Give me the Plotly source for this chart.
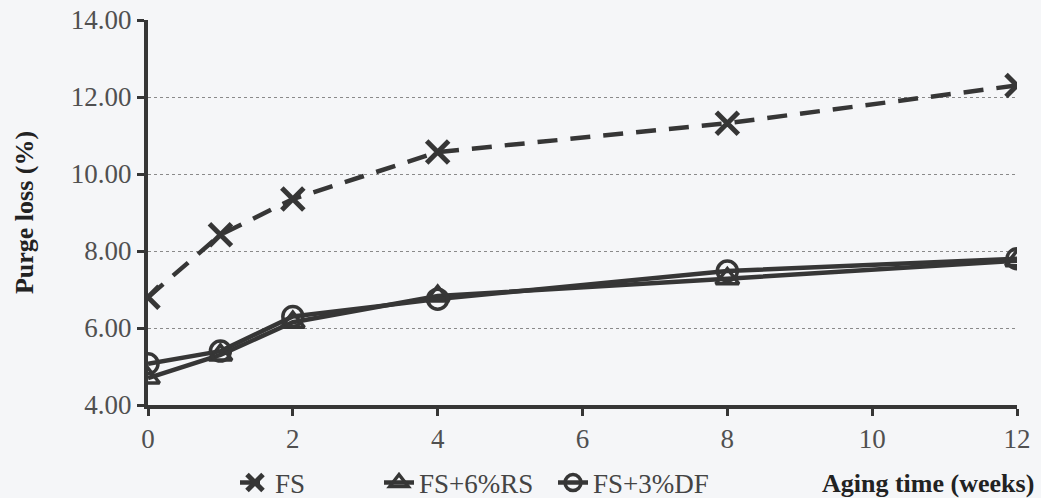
import plotly.graph_objects as go

weeks = [0, 1, 2, 4, 8, 12]
fs = [6.80, 8.42, 9.35, 10.57, 11.32, 12.30]
fs_rs = [4.70, 5.30, 6.15, 6.83, 7.28, 7.75]
fs_df = [5.07, 5.40, 6.30, 6.75, 7.48, 7.80]
x_ticks = [0, 2, 4, 6, 8, 10, 12]
y_ticks = [4, 6, 8, 10, 12, 14]

col = "#363636"
font = "Liberation Serif, Times New Roman, serif"
fsz = 27
tsz = 26
W, H = 1041, 498
L, R, T, B = 148, 24, 20, 93

fig = go.Figure()
fig.add_trace(go.Scatter(x=weeks, y=fs, name="FS", mode="lines+markers", legend="legend",
                         line=dict(color=col, width=4.5, dash="20px,13px"),
                         marker=dict(symbol="x-thin-open", size=22, line=dict(color=col, width=5))))
fig.add_trace(go.Scatter(x=weeks, y=fs_rs, name="FS+6%RS", mode="lines+markers", legend="legend2",
                         line=dict(color=col, width=4.5),
                         marker=dict(symbol="triangle-up-open", size=20, line=dict(color=col, width=3.5))))
fig.add_trace(go.Scatter(x=weeks, y=fs_df, name="FS+3%DF", mode="lines+markers", legend="legend3",
                         line=dict(color=col, width=4.5),
                         marker=dict(symbol="circle-open", size=20, line=dict(color=col, width=3.5))))

leg = dict(orientation="h", xref="container", yref="container", y=(H - 483) / H, yanchor="middle",
           xanchor="left", font=dict(size=fsz, color="#444", family=font),
           bgcolor="rgba(0,0,0,0)", itemwidth=30)

fig.update_layout(
    width=W, height=H,
    paper_bgcolor="#f5f6f8", plot_bgcolor="#f5f6f8",
    margin=dict(l=L, r=R, t=T, b=B, autoexpand=False),
    font=dict(family=font, size=fsz, color="#333"),
    showlegend=True,
    legend=dict(leg, x=235 / W),
    legend2=dict(leg, x=379 / W),
    legend3=dict(leg, x=553 / W),
    xaxis=dict(range=[0, 12], tickvals=x_ticks, ticks="outside", ticklen=7, tickwidth=3,
               tickcolor=col, showline=True, linecolor=col, linewidth=4, showgrid=False,
               zeroline=False, tickfont=dict(size=fsz, color="#505050"), automargin=False),
    yaxis=dict(range=[4, 14], tickvals=y_ticks, tickformat=".2f", ticks="outside", ticklen=7,
               tickwidth=3, tickcolor=col, showline=True, linecolor=col, linewidth=4,
               showgrid=True, gridcolor="#8a8a8a", griddash="dot", gridwidth=1,
               zeroline=False, tickfont=dict(size=fsz, color="#505050"), automargin=False,
               title=dict(text="<b>Purge loss (%)</b>", font=dict(size=tsz, color="#222"), standoff=31)),
)
plot_h = H - T - B
plot_w = W - L - R
fig.add_annotation(text="<b>Aging time (weeks)</b>", xref="paper", yref="paper",
                   x=(1036 - L) / plot_w, y=-(483 - (H - B)) / plot_h,
                   xanchor="right", yanchor="middle", showarrow=False,
                   font=dict(size=tsz, color="#222", family=font))
fig.write_html("out.html", post_script="document.body.style.margin='0';",
               config={"displayModeBar": False})
